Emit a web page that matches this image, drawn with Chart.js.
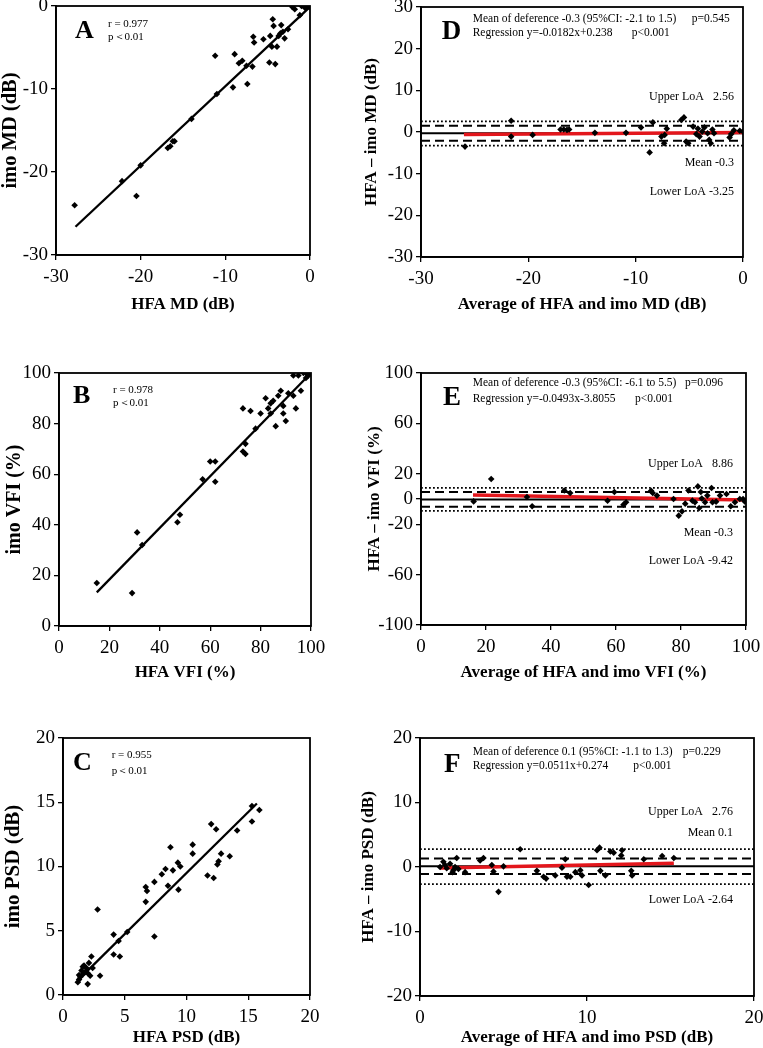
<!DOCTYPE html>
<html><head><meta charset="utf-8">
<script src="https://cdn.jsdelivr.net/npm/chart.js@4.4.1/dist/chart.umd.min.js"></script>
<style>
html,body{margin:0;padding:0;background:#fff;}
body{width:763px;height:1048px;position:relative;overflow:hidden;}
canvas{position:absolute;}
</style></head><body>
<canvas id="cA" width="380" height="350" style="left:0;top:0"></canvas>
<canvas id="cB" width="380" height="350" style="left:0;top:350px"></canvas>
<canvas id="cC" width="380" height="348" style="left:0;top:700px"></canvas>
<canvas id="cD" width="403" height="350" style="left:360px;top:0"></canvas>
<canvas id="cE" width="403" height="350" style="left:360px;top:350px"></canvas>
<canvas id="cF" width="403" height="348" style="left:360px;top:700px"></canvas>
<script>
// ---------- DATA ----------
// Panel A: HFA MD vs imo MD
const A_HFA = [-27.8,-22.2,-20.5,-20.0,-16.8,-16.5,-16.2,-16.0,-14.0,-11.2,-11.0,-9.1,-8.9,-8.4,-8.0,-7.5,-7.4,-6.8,-6.7,-6.6,-5.5,-4.8,-4.7,-4.5,-4.4,-4.3,-4.1,-3.9,-3.7,-3.5,-3.4,-3.2,-3.0,-2.6,-2.1,-1.8,-1.2,-1.0,-0.6,-0.2,-0.1];
const A_IMO = [-24.0,-21.1,-22.9,-19.2,-17.1,-16.9,-16.3,-16.3,-13.6,-6.0,-10.6,-9.8,-5.8,-6.9,-6.6,-7.2,-9.4,-7.3,-3.7,-4.4,-4.0,-6.8,-3.6,-4.9,-1.6,-2.4,-7.0,-4.9,-3.6,-3.3,-2.3,-3.1,-3.9,-2.8,-0.1,-0.4,-1.1,0,-0.2,0,-0.1];
const A_FIT_X = [-27.7, 0];
const A_FIT_Y = [-26.6, -0.1];
const A_X_TICKS = [-30, 0, 10];   // min, max, step
const A_Y_TICKS = [-30, 0, 10];

// Panel B: HFA VFI vs imo VFI
const B_HFA = [15,29,31,33,47,48,57,60,62,62,73,73,74,74,76,78,80,82,83,84,84,85,86,87,88,89,89,90,91,93,93,94,95,96,97,98,98,99,100,100];
const B_IMO = [17,13,37,32,41,44,58,65,65,57,86,69,72,68,85,78,84,90,86,88,84,89,79,91,93,87,84,81,92,99,91,86,99,93,100,98,100,99,100,100];
const B_FIT_X = [15, 99.5];
const B_FIT_Y = [13.3, 99.5];
const B_X_TICKS = [0, 100, 20];
const B_Y_TICKS = [0, 100, 20];

// Panel C: HFA PSD vs imo PSD
const C_HFA = [1.2,1.3,1.4,1.5,1.6,1.7,1.8,1.9,2.0,2.1,2.2,2.3,2.4,2.8,3.0,4.1,4.1,4.5,4.6,5.2,6.7,6.8,6.7,7.4,7.4,8.0,8.3,8.5,8.7,8.9,9.3,9.35,9.5,10.5,10.5,11.7,12.0,12.2,12.4,12.5,12.6,12.8,13.5,14.1,15.3,15.3,15.9,1.3,1.6,2.0];
const C_IMO = [1.0,1.55,1.4,1.9,2.2,2.3,1.8,2.1,0.85,2.5,1.5,3.0,2.1,6.65,1.5,4.7,3.15,4.2,3.0,4.9,8.4,8.1,7.25,4.55,8.8,9.4,9.8,8.5,11.5,9.7,10.3,8.2,10.0,11.7,11.0,9.3,13.3,9.1,12.9,10.15,10.4,11.0,10.8,12.8,14.7,13.5,14.4,1.2,1.6,1.7];
const C_FIT_X = [1.3, 15.7];
const C_FIT_Y = [1.24, 14.9];
const C_X_TICKS = [0, 20, 5];
const C_Y_TICKS = [0, 20, 5];

// Panel D: Bland-Altman MD
const D_AVG = [-25.9,-21.6,-21.6,-19.6,-17.0,-16.7,-16.4,-16.2,-13.8,-10.9,-9.5,-8.7,-8.4,-7.6,-7.35,-7.3,-7.1,-5.75,-5.5,-5.3,-5.1,-4.65,-4.35,-4.2,-4.05,-3.8,-3.6,-3.3,-3.15,-3.0,-2.85,-2.7,-1.25,-1.1,-0.85,-0.3,0];
const D_DIFF = [-3.5,2.7,-1.1,-0.7,0.6,0.6,0.5,0.6,-0.2,-0.2,1.1,-4.9,2.3,-1.1,-2.7,-0.7,0.8,2.9,3.5,-2.3,-2.7,1.3,-0.5,0.8,-1.1,0.1,1.1,-0.3,-1.9,-2.7,0.6,-0.3,-1.3,-0.5,0.4,0.3,0.1];
const D_MEAN = -0.3;
const D_CI = [-2.1, 1.5];
const D_LOA = [-3.25, 2.56];
const D_FIT_X = [-26, 0];
const D_FIT_Y = [-0.6, -0.1];
const D_X_TICKS = [-30, 0, 10];
const D_Y_TICKS = [-30, 30, 10];

// Panel E: Bland-Altman VFI
const E_AVG = [16.2,21.6,32.6,34.2,44.1,45.9,57.4,59.5,62.3,63.1,70.8,71.3,72.6,77.7,79.3,80.3,81.3,82.3,83.5,84.3,85.2,85.6,86.1,86.4,87.4,88.1,89.4,89.7,90.8,92.0,94.0,95.3,96.6,98.1,99.1,99.6];
const E_DIFF = [-1.9,15.9,1.6,-5.8,6.8,4.8,-1.4,5.6,-4.5,-2.6,6.6,4.8,2.7,0,-13.2,-9.8,-3.7,6.8,-1.3,-2.6,10,-7.1,5.6,0.4,-2.6,2.7,8.7,-2.6,-2.1,2.7,4.0,-5.8,-2.6,0,0,-1.9];
const E_MEAN = -0.3;
const E_CI = [-6.1, 5.5];
const E_LOA = [-9.42, 8.86];
const E_FIT_X = [16, 100];
const E_FIT_Y = [3.2, -0.8];
const E_X_TICKS = [0, 100, 20];
const E_Y_TICK_VALUES = [-100, -60, -20, 0, 20, 60, 100];

// Panel F: Bland-Altman PSD
const F_AVG = [1.2,1.4,1.6,1.8,1.95,2.1,2.2,2.7,3.6,3.8,4.3,4.4,4.7,5.0,6.0,7.0,7.4,7.55,8.1,8.5,8.7,8.8,9.0,9.3,9.6,9.7,10.1,10.6,10.75,10.8,11.1,11.4,11.6,12.1,12.05,12.65,12.7,13.4,14.5,15.2,1.5,2.0,2.3];
const F_DIFF = [0,0.8,-0.2,0.5,-0.8,0,1.4,-0.8,1.0,1.4,0.3,-0.7,-3.85,0.1,2.75,-0.6,-1.5,-1.8,-1.3,-0.1,1.2,-1.5,-1.5,-0.8,-0.5,-1.3,-2.8,2.6,3.0,-0.6,-1.3,2.4,2.2,2.6,1.8,-0.6,-1.3,1.2,1.7,1.4,0.3,-0.5,-0.3];
const F_MEAN = 0.1;
const F_CI = [-1.1, 1.3];
const F_LOA = [-2.64, 2.76];
const F_FIT_X = [1.2, 15.2];
const F_FIT_Y = [-0.15, 0.6];
const F_X_TICKS = [0, 20, 10];
const F_Y_TICKS = [-20, 20, 10];

// ---------- RENDERING ----------
const FONT = "'Liberation Serif','Times New Roman',serif";
Chart.defaults.font.family = FONT;
Chart.defaults.color = '#000';

const textPlugin = {
  id: 'panelText',
  afterDraw(chart, args, opts) {
    const ctx = chart.ctx;
    ctx.save();
    ctx.fillStyle = '#000';
    ctx.textBaseline = 'middle';
    (opts.items || []).forEach(it => {
      ctx.font = (it.bold ? 'bold ' : '') + it.size + 'px ' + FONT;
      ctx.textAlign = it.align || 'left';
      ctx.fillText(it.text, it.x, it.y);
    });
    ctx.restore();
  }
};
const framePlugin = {
  id: 'frame',
  afterDraw(chart) {
    const a = chart.chartArea, ctx = chart.ctx;
    ctx.save();
    ctx.strokeStyle = '#000';
    ctx.lineWidth = 1.8;
    ctx.strokeRect(a.left, a.top, a.right - a.left, a.bottom - a.top);
    ctx.restore();
  }
};
Chart.register(textPlugin, framePlugin);

function zip(xs, ys) { return xs.map((x, i) => ({x: x, y: ys[i]})); }
function pts(xs, ys) {
  return {data: zip(xs, ys), pointStyle: 'rectRot', pointRadius: 3.3, pointHoverRadius: 3.3,
    backgroundColor: '#000', borderColor: '#000', borderWidth: 0, showLine: false, order: 0};
}
function seg(xs, ys, color, width, dash, order) {
  return {data: zip(xs, ys), showLine: true, pointRadius: 0, borderColor: color, borderWidth: width,
    borderDash: dash || [], fill: false, order: order, tension: 0};
}
function hline(range, y, color, width, dash, order) {
  return seg([range[0], range[1]], [y, y], color, width, dash, order);
}

function axis(range, title, fitSize, titlePad, isX, titleSize, customTicks) {
  const ax = {
    type: 'linear', min: range[0], max: range[1],
    ticks: {stepSize: range[2], font: {size: 19}, color: '#000', padding: isX ? 6 : 3,
      maxRotation: 0, autoSkip: false},
    grid: {drawOnChartArea: false, drawTicks: true, tickLength: 5, color: '#000', lineWidth: 1.3},
    border: {color: '#000', width: 1.8},
    title: {display: true, text: title, color: '#000',
      font: {size: titleSize, weight: 'bold', lineHeight: isX ? 1.2 : 1},
      padding: isX ? {top: 0, bottom: titlePad} : {top: titlePad, bottom: 0}},
    afterFit(s) {
      if (isX) s.height = fitSize; else s.width = fitSize;
      s.paddingTop = 0; s.paddingBottom = 0; s.paddingLeft = 0; s.paddingRight = 0;
    }
  };
  if (customTicks) {
    ax.afterBuildTicks = function (s) { s.ticks = customTicks.map(v => ({value: v})); };
  }
  return ax;
}

function makeChart(id, c) {
  new Chart(document.getElementById(id), {
    type: 'scatter',
    data: {datasets: c.datasets},
    options: {
      responsive: false, animation: false, events: [],
      layout: {padding: c.pad},
      plugins: {legend: {display: false}, tooltip: {enabled: false}, panelText: {items: c.texts}},
      scales: {
        x: axis(c.xr, c.xTitle, c.xH, c.xTP, true, 17),
        y: axis(c.yr, c.yTitle, c.yW, c.yTP, false, c.ySize, c.yTicks)
      }
    }
  });
}

const T = (text, x, y, size, bold, align) => ({text, x, y, size, bold: !!bold, align: align || 'left'});
const RED = '#e3161c';

// A
makeChart('cA', {
  xr: A_X_TICKS, yr: A_Y_TICKS, xTitle: 'HFA MD (dB)', yTitle: 'imo MD (dB)', ySize: 20.5,
  pad: {left: 0, top: 6, right: 70, bottom: 0}, yW: 56, xH: 95, xTP: 34.8, yTP: 0,
  datasets: [pts(A_HFA, A_IMO), seg(A_FIT_X, A_FIT_Y, '#000', 2.3, [], 1)],
  texts: [T('A', 75, 31, 26, true), T('r = 0.977', 108, 24, 11), T('p＜0.01', 108, 37, 11)]
});
// B
makeChart('cB', {
  xr: B_X_TICKS, yr: B_Y_TICKS, xTitle: 'HFA VFI (%)', yTitle: 'imo VFI (%)', ySize: 20,
  pad: {left: 0, top: 23, right: 69, bottom: 0}, yW: 59, xH: 74, xTP: 16.8, yTP: 5,
  datasets: [pts(B_HFA, B_IMO), seg(B_FIT_X, B_FIT_Y, '#000', 2.3, [], 1)],
  texts: [T('B', 73, 46.7, 26, true), T('r = 0.978', 113, 40, 11), T('p＜0.01', 113, 53.3, 11)]
});
// C
makeChart('cC', {
  xr: C_X_TICKS, yr: C_Y_TICKS, xTitle: 'HFA PSD (dB)', yTitle: 'imo PSD (dB)', ySize: 21,
  pad: {left: 0, top: 38, right: 70, bottom: 0}, yW: 63, xH: 53, xTP: 0, yTP: 3,
  datasets: [pts(C_HFA, C_IMO), seg(C_FIT_X, C_FIT_Y, '#000', 2.3, [], 1)],
  texts: [T('C', 73, 63, 26, true), T('r = 0.955', 111.7, 55, 11), T('p＜0.01', 111.7, 71, 11)]
});
// D
makeChart('cD', {
  xr: D_X_TICKS, yr: D_Y_TICKS, xTitle: 'Average of HFA and imo MD (dB)', yTitle: 'HFA – imo MD (dB)', ySize: 17,
  pad: {left: 0, top: 7, right: 20, bottom: 0}, yW: 61, xH: 93, xTP: 34.8, yTP: 3.5,
  datasets: [
    pts(D_AVG, D_DIFF),
    seg(D_FIT_X, D_FIT_Y, RED, 3.5, [], 1),
    hline(D_X_TICKS, D_MEAN, '#000', 2, [], 2),
    hline(D_X_TICKS, D_CI[0], '#000', 2, [9, 5], 3),
    hline(D_X_TICKS, D_CI[1], '#000', 2, [9, 5], 3),
    hline(D_X_TICKS, D_LOA[0], '#000', 1.8, [1.8, 2.2], 3),
    hline(D_X_TICKS, D_LOA[1], '#000', 1.8, [1.8, 2.2], 3)
  ],
  texts: [T('D', 81.7, 31.7, 27, true),
    T('Mean of deference -0.3 (95%CI: -2.1 to 1.5)', 112.7, 19, 11.5), T('p=0.545', 331.7, 19, 11.5),
    T('Regression y=-0.0182x+0.238', 112.7, 33, 11.5), T('p<0.001', 271.7, 33, 11.5),
    T('Upper LoA   2.56', 374, 96.7, 12, false, 'right'),
    T('Mean -0.3', 374, 163, 12, false, 'right'),
    T('Lower LoA -3.25', 374, 192, 12, false, 'right')]
});
// E
makeChart('cE', {
  xr: E_X_TICKS, yr: [-100, 100, 20], yTicks: E_Y_TICK_VALUES, ySize: 17,
  xTitle: 'Average of HFA and imo VFI (%)', yTitle: 'HFA – imo VFI (%)',
  pad: {left: 0, top: 23, right: 17, bottom: 0}, yW: 61, xH: 75, xTP: 16.8, yTP: 6.5,
  datasets: [
    pts(E_AVG, E_DIFF),
    seg(E_FIT_X, E_FIT_Y, RED, 3.5, [], 1),
    hline(E_X_TICKS, E_MEAN, '#000', 2, [], 2),
    hline(E_X_TICKS, E_CI[0], '#000', 2, [9, 5], 3),
    hline(E_X_TICKS, E_CI[1], '#000', 2, [9, 5], 3),
    hline(E_X_TICKS, E_LOA[0], '#000', 1.8, [1.8, 2.2], 3),
    hline(E_X_TICKS, E_LOA[1], '#000', 1.8, [1.8, 2.2], 3)
  ],
  texts: [T('E', 83, 47.7, 27, true),
    T('Mean of deference -0.3 (95%CI: -6.1 to 5.5)', 112.7, 33.3, 11.5), T('p=0.096', 325, 33.3, 11.5),
    T('Regression y=-0.0493x-3.8055', 112.7, 49, 11.5), T('p<0.001', 275, 49, 11.5),
    T('Upper LoA   8.86', 373, 114.3, 12, false, 'right'),
    T('Mean -0.3', 373, 183.3, 12, false, 'right'),
    T('Lower LoA -9.42', 373, 210.7, 12, false, 'right')]
});
// F
makeChart('cF', {
  xr: F_X_TICKS, yr: F_Y_TICKS, xTitle: 'Average of HFA and imo PSD (dB)', yTitle: 'HFA – imo PSD (dB)', ySize: 17,
  pad: {left: 0, top: 38, right: 9, bottom: 0}, yW: 60, xH: 52, xTP: 0, yTP: 0.5,
  datasets: [
    pts(F_AVG, F_DIFF),
    seg(F_FIT_X, F_FIT_Y, RED, 3.5, [], 1),
    hline(F_X_TICKS, F_MEAN, '#000', 2, [], 2),
    hline(F_X_TICKS, F_CI[0], '#000', 2, [9, 5], 3),
    hline(F_X_TICKS, F_CI[1], '#000', 2, [9, 5], 3),
    hline(F_X_TICKS, F_LOA[0], '#000', 1.8, [1.8, 2.2], 3),
    hline(F_X_TICKS, F_LOA[1], '#000', 1.8, [1.8, 2.2], 3)
  ],
  texts: [T('F', 84, 65, 27, true),
    T('Mean of deference 0.1 (95%CI: -1.1 to 1.3)', 112.7, 51.7, 11.5), T('p=0.229', 322.7, 51.7, 11.5),
    T('Regression y=0.0511x+0.274', 112.7, 65.7, 11.5), T('p<0.001', 273.3, 65.7, 11.5),
    T('Upper LoA   2.76', 373, 111.7, 12, false, 'right'),
    T('Mean 0.1', 373, 133.3, 12, false, 'right'),
    T('Lower LoA -2.64', 373, 200, 12, false, 'right')]
});
</script>
</body></html>
